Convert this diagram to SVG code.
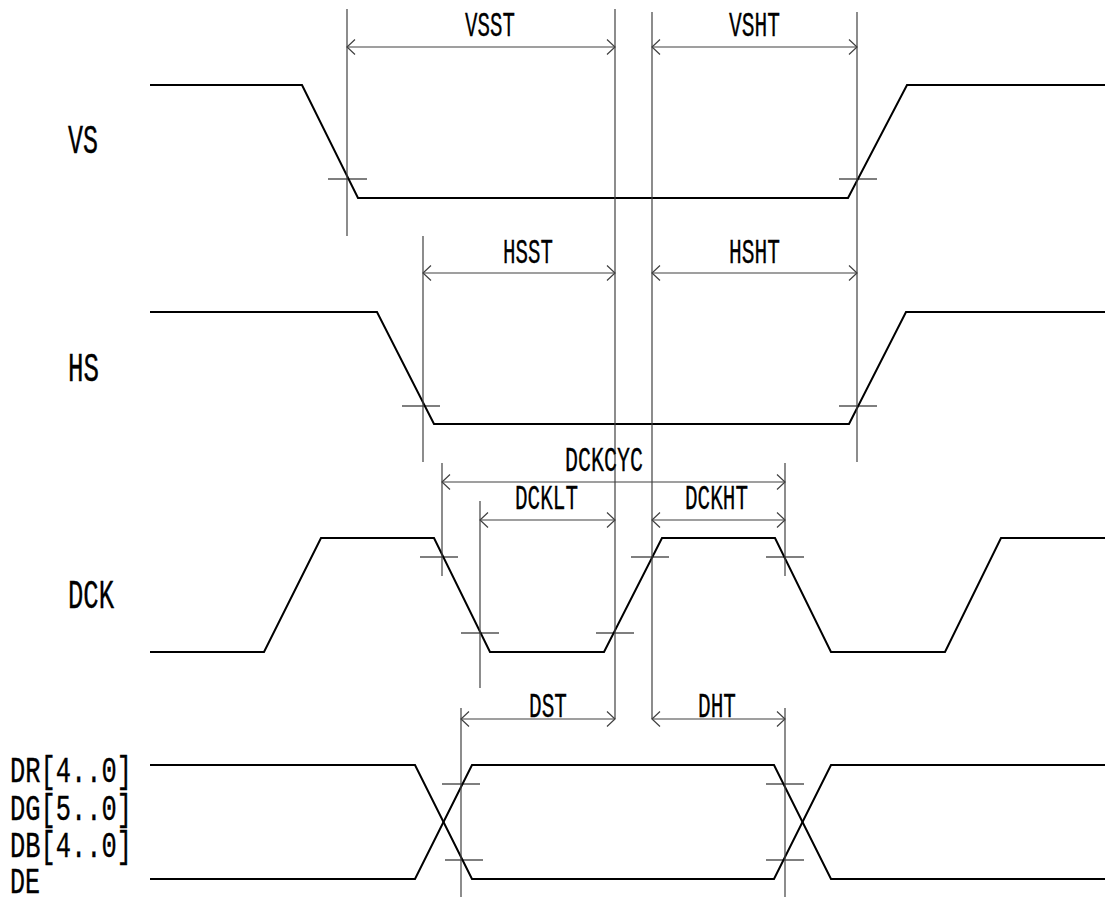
<svg xmlns="http://www.w3.org/2000/svg" width="1107" height="900" viewBox="0 0 1107 900">
<defs>
<marker id="chev" viewBox="-10 -10 20 20" markerWidth="20" markerHeight="20" refX="0" refY="0" orient="auto-start-reverse" markerUnits="userSpaceOnUse">
<path d="M-8,-7.5 L0,0 L-8,7.5" fill="none" stroke="#404040" stroke-width="1.2"/>
</marker>
</defs>
<style>
.wave{fill:none;stroke:#000;stroke-width:2;stroke-linejoin:miter}
.vl{stroke:#404040;stroke-width:1.2;fill:none}
.dim{stroke:#404040;stroke-width:1.2;fill:none;marker-start:url(#chev);marker-end:url(#chev)}
.tick{stroke:#000;stroke-width:1.2}
.sig{font-family:"Liberation Mono","DejaVu Sans Mono",monospace;font-size:41px;fill:#000;stroke:#000;stroke-width:0.4}
.dat{font-family:"Liberation Mono","DejaVu Sans Mono",monospace;font-size:37px;fill:#000;stroke:#000;stroke-width:0.4}
.lbl{font-family:"Liberation Mono","DejaVu Sans Mono",monospace;font-size:35px;fill:#000;stroke:#000;stroke-width:0.3}
</style>
<rect width="1107" height="900" fill="#fff"/>

<g id="signal-labels">
<text class="sig" x="68" y="153" textLength="30" lengthAdjust="spacingAndGlyphs">VS</text>
<text class="sig" x="68" y="381" textLength="31" lengthAdjust="spacingAndGlyphs">HS</text>
<text class="sig" x="68" y="608" textLength="46" lengthAdjust="spacingAndGlyphs">DCK</text>
</g>
<g id="data-labels">
<text class="dat"><tspan x="10" y="782" textLength="122" lengthAdjust="spacingAndGlyphs">DR[4..0]</tspan><tspan x="10" y="820" textLength="122" lengthAdjust="spacingAndGlyphs">DG[5..0]</tspan><tspan x="10" y="857" textLength="122" lengthAdjust="spacingAndGlyphs">DB[4..0]</tspan><tspan x="10" y="893" textLength="30" lengthAdjust="spacingAndGlyphs">DE</tspan></text>
</g>

<g id="waveforms">
<path id="VS" class="wave" d="M150,85 H302 L358,198 H848 L907,85 H1105"/>
<path id="HS" class="wave" d="M150,312 H377 L434,424 H849 L906,312 H1105"/>
<path id="DCK" class="wave" d="M150,652 H264 L321,538 H434 L490,652 H604 L662,538 H775 L831,652 H945 L1001,538 H1105"/>
<path id="DATA-hi" class="wave" d="M150,765 H415 L472,879 H774 L831,765 H1105"/>
<path id="DATA-lo" class="wave" d="M150,879 H415 L472,765 H774 L831,879 H1105"/>
</g>

<g id="ticks">
<line class="tick" x1="328" y1="179" x2="367" y2="179"/>
<line class="tick" x1="839" y1="179" x2="877" y2="179"/>
<line class="tick" x1="402" y1="406" x2="440" y2="406"/>
<line class="tick" x1="839" y1="406" x2="877" y2="406"/>
<line class="tick" x1="420" y1="557" x2="458" y2="557"/>
<line class="tick" x1="461" y1="633" x2="499" y2="633"/>
<line class="tick" x1="596" y1="633" x2="634" y2="633"/>
<line class="tick" x1="631" y1="557" x2="669" y2="557"/>
<line class="tick" x1="766" y1="557" x2="804" y2="557"/>
<line class="tick" x1="442" y1="784" x2="480" y2="784"/>
<line class="tick" x1="445" y1="860" x2="483" y2="860"/>
<line class="tick" x1="766" y1="784" x2="804" y2="784"/>
<line class="tick" x1="766" y1="860" x2="804" y2="860"/>
</g>

<g id="connectors">
<line class="vl" x1="347" y1="9" x2="347" y2="236"/>
<line class="vl" x1="615" y1="9" x2="615" y2="719"/>
<line class="vl" x1="652" y1="12" x2="652" y2="719"/>
<line class="vl" x1="857" y1="12" x2="857" y2="462"/>
<line class="vl" x1="423" y1="236" x2="423" y2="462"/>
<line class="vl" x1="442" y1="463" x2="442" y2="576"/>
<line class="vl" x1="480" y1="501" x2="480" y2="688"/>
<line class="vl" x1="785" y1="463" x2="785" y2="576"/>
<line class="vl" x1="461" y1="708" x2="461" y2="897"/>
<line class="vl" x1="785" y1="708" x2="785" y2="897"/>

<line class="dim" x1="347" y1="47" x2="615" y2="47"/>
<line class="dim" x1="652" y1="47" x2="857" y2="47"/>
<line class="dim" x1="423" y1="273" x2="615" y2="273"/>
<line class="dim" x1="652" y1="273" x2="857" y2="273"/>
<line class="dim" x1="442" y1="482" x2="785" y2="482"/>
<line class="dim" x1="480" y1="520" x2="615" y2="520"/>
<line class="dim" x1="652" y1="520" x2="785" y2="520"/>
<line class="dim" x1="461" y1="719" x2="615" y2="719"/>
<line class="dim" x1="652" y1="719" x2="785" y2="719"/>
</g>

<g id="dimension-labels">
<text class="lbl" x="465" y="36" textLength="50" lengthAdjust="spacingAndGlyphs">VSST</text>
<text class="lbl" x="729" y="36" textLength="51" lengthAdjust="spacingAndGlyphs">VSHT</text>
<text class="lbl" x="503" y="263" textLength="50" lengthAdjust="spacingAndGlyphs">HSST</text>
<text class="lbl" x="729" y="263" textLength="51" lengthAdjust="spacingAndGlyphs">HSHT</text>
<text class="lbl" x="565" y="471" textLength="78" lengthAdjust="spacingAndGlyphs">DCKCYC</text>
<text class="lbl" x="515" y="509" textLength="63" lengthAdjust="spacingAndGlyphs">DCKLT</text>
<text class="lbl" x="685" y="509" textLength="63" lengthAdjust="spacingAndGlyphs">DCKHT</text>
<text class="lbl" x="529" y="717" textLength="38" lengthAdjust="spacingAndGlyphs">DST</text>
<text class="lbl" x="698" y="717" textLength="38" lengthAdjust="spacingAndGlyphs">DHT</text>
</g>
</svg>
